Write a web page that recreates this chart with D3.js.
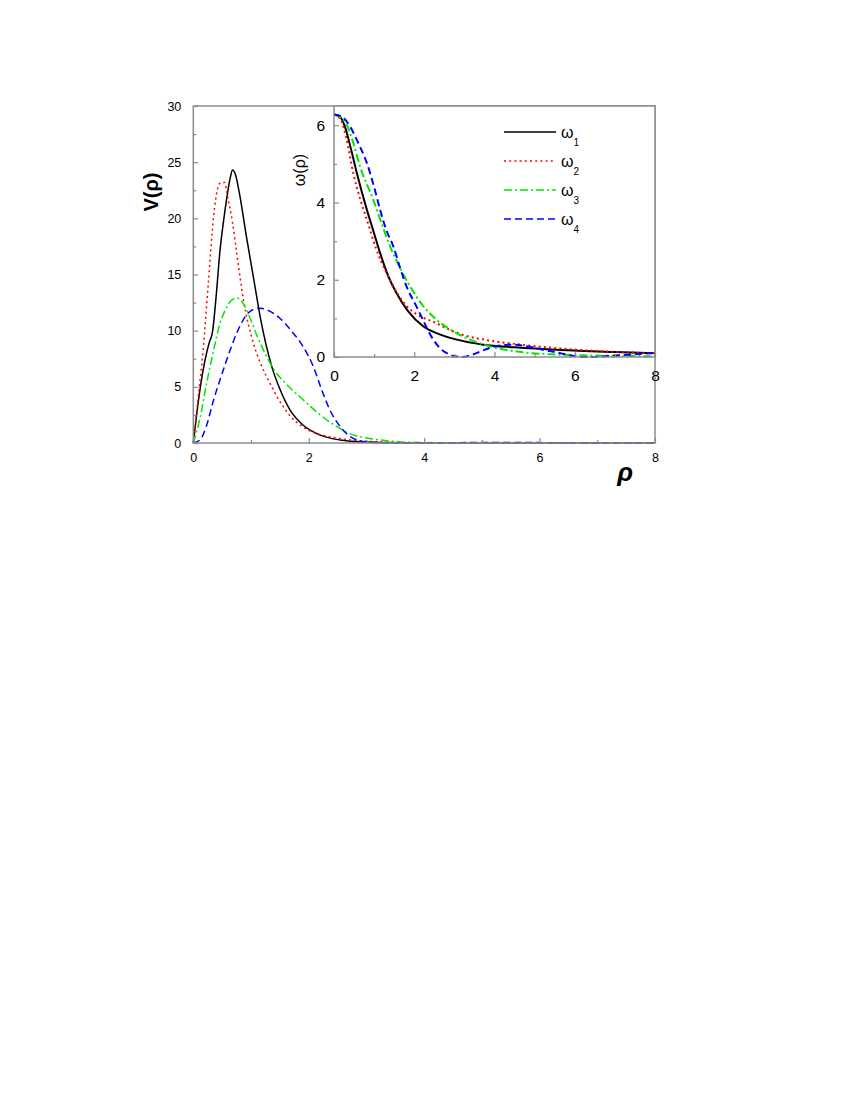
<!DOCTYPE html>
<html>
<head>
<meta charset="utf-8">
<script src="https://cdn.jsdelivr.net/npm/d3@7/dist/d3.min.js"></script>
<style>
  body { margin: 0; background: #fff; }
  text { font-family: "Liberation Sans", Arial, sans-serif; fill: #000; }
</style>
</head>
<body>
<div id="chart"></div>
<script>
// Our canvas
const width = 850,
  height = 1100

// V(rho) curves, main panel  [rho, V]
const v1 = [[0,0],[0.06,2.6],[0.12,4.9],[0.2,7.3],[0.28,9.0],[0.33,9.8],[0.4,13.3],[0.46,17.0],[0.52,19.6],[0.58,21.8],[0.64,23.6],[0.68,24.3],[0.73,23.9],[0.8,22.2],[0.92,18.4],[1.05,14.5],[1.16,11.2],[1.36,6.8],[1.5,4.8],[1.68,2.9],[1.9,1.6],[2.2,0.7],[2.54,0.27],[3,0.08],[3.5,0.02],[4,0.01],[8,0]]
const v2 = [[0,0],[0.06,2.9],[0.17,8.3],[0.26,14.2],[0.35,20.1],[0.42,22.6],[0.48,23.2],[0.54,23.2],[0.6,21.8],[0.68,19.6],[0.75,17.0],[0.87,12.7],[1.04,8.9],[1.18,6.9],[1.33,5.3],[1.5,3.7],[1.68,2.4],[1.88,1.5],[2.08,0.95],[2.48,0.45],[3,0.16],[3.5,0.05],[4,0.01],[8,0]]
const v3 = [[0,0],[0.12,2.3],[0.23,5.3],[0.35,8.2],[0.46,10.6],[0.56,11.9],[0.66,12.7],[0.76,12.9],[0.88,12.3],[1.0,10.9],[1.1,9.6],[1.25,7.9],[1.39,6.6],[1.6,5.3],[1.85,4.1],[2.2,2.5],[2.49,1.45],[2.7,0.85],[3.0,0.45],[3.24,0.27],[3.6,0.1],[4,0.04],[5,0.01],[8,0]]
const v4 = [[0,0],[0.12,0.3],[0.22,1.4],[0.35,3.8],[0.5,6.2],[0.64,8.3],[0.78,10.1],[0.92,11.4],[1.05,11.9],[1.16,12.0],[1.3,11.8],[1.5,11.1],[1.68,10.1],[1.9,8.6],[2.08,6.8],[2.22,4.8],[2.37,2.9],[2.54,1.5],[2.72,0.56],[2.9,0.18],[3.1,0.05],[3.6,0.02],[4.5,0.03],[5.5,0.05],[6.5,0.01],[8,0]]

// omega(rho) curves, inset  [rho, omega]
const w1 = [[0,6.28],[0.15,6.22],[0.27,5.97],[0.42,5.4],[0.57,4.76],[0.82,3.81],[1.0,3.2],[1.15,2.69],[1.35,2.1],[1.56,1.65],[1.85,1.18],[2.23,0.79],[2.6,0.6],[3.06,0.45],[3.72,0.32],[4.5,0.25],[5.64,0.18],[7,0.13],[8,0.1]]
const w2 = [[0,6.28],[0.15,6.18],[0.3,5.7],[0.48,4.76],[0.65,4.1],[0.82,3.55],[1.05,2.8],[1.31,2.17],[1.55,1.7],[1.81,1.32],[2.1,1.08],[2.48,0.91],[2.85,0.72],[3.22,0.57],[3.8,0.44],[4.5,0.34],[5.64,0.22],[6.5,0.16],[7.3,0.12],[8,0.1]]
const w3 = [[0,6.28],[0.15,6.22],[0.3,6.05],[0.48,5.55],[0.65,4.93],[0.98,4.07],[1.2,3.42],[1.4,2.86],[1.65,2.3],[1.9,1.82],[2.2,1.35],[2.56,0.96],[2.85,0.74],[3.14,0.57],[3.39,0.45],[3.8,0.3],[4.5,0.15],[5.64,0.06],[7,0.03],[8,0.02]]
const w4 = [[0,6.28],[0.2,6.22],[0.4,5.97],[0.6,5.55],[0.82,5.02],[1.0,4.4],[1.15,3.81],[1.3,3.3],[1.48,2.86],[1.65,2.3],[1.81,1.82],[2.0,1.42],[2.14,1.13],[2.3,0.78],[2.48,0.44],[2.65,0.22],[2.81,0.1],[3.0,0.02],[3.2,0.0],[3.45,0.06],[3.64,0.14],[4.0,0.27],[4.4,0.32],[4.8,0.28],[5.2,0.19],[5.64,0.1],[5.9,0.04],[6.2,0.0],[6.6,0.01],[6.9,0.03],[7.5,0.07],[8,0.11]]

// tick values
const mainYTicks = [0, 5, 10, 15, 20, 25, 30]
const mainYMinor = [2.5, 7.5, 12.5, 17.5, 22.5, 27.5]
const xTicks = [0, 2, 4, 6, 8]
const xMinor = [1, 3, 5, 7]
const insetYTicks = [0, 2, 4, 6]
const insetYMinor = [1, 3, 5]

// legend entries
const legendNames = ['1', '2', '3', '4']

const styles = [
  { color: '#000000', dash: null },
  { color: '#ff0000', dash: '2,3.2' },
  { color: '#00e600', dash: '8,3,2,3' },
  { color: '#0000ff', dash: '7,4' }
]

let svg = d3.select('#chart')
  .append('svg')
  .attr('width', width)
  .attr('height', height)

svg.append('rect').attr('width', width).attr('height', height).attr('fill', '#fff')

const frameColor = '#8c8c8c'

// main panel
const x = d3.scaleLinear().domain([0, 8]).range([193.3, 655])
const y = d3.scaleLinear().domain([0, 30]).range([443, 106])

// inset panel
const xi = d3.scaleLinear().domain([0, 8]).range([334, 655])
const yi = d3.scaleLinear().domain([0, 6.5]).range([357, 106])

let drawAxes = (xs, ys, yTicks, yMinor, fontSize, xPad, yPad, majorLen, minorLen) => {
  let [x0, x1] = xs.range()
  let [y0, y1] = ys.range()

  let gx = svg.append('g').attr('transform', `translate(0,${y0})`)
    .call(d3.axisBottom(xs).tickValues(xTicks).tickSizeInner(-majorLen).tickSizeOuter(0).tickPadding(xPad).tickFormat(d3.format('d')))
  let gxm = svg.append('g').attr('transform', `translate(0,${y0})`)
    .call(d3.axisBottom(xs).tickValues(xMinor).tickSizeInner(-minorLen).tickSizeOuter(0).tickFormat(''))
  let gy = svg.append('g').attr('transform', `translate(${x0},0)`)
    .call(d3.axisLeft(ys).tickValues(yTicks).tickSizeInner(-majorLen).tickSizeOuter(0).tickPadding(yPad).tickFormat(d3.format('d')))
  let gym = svg.append('g').attr('transform', `translate(${x0},0)`)
    .call(d3.axisLeft(ys).tickValues(yMinor).tickSizeInner(-minorLen).tickSizeOuter(0).tickFormat(''))

  ;[gx, gxm, gy, gym].forEach(g => {
    g.select('.domain').remove()
    g.selectAll('line').attr('stroke', frameColor).attr('stroke-width', 1.2)
    g.selectAll('text').attr('font-size', fontSize).attr('fill', '#000')
      .style('font-family', '"Liberation Sans", Arial, sans-serif')
  })

  svg.append('rect')
    .attr('x', x0).attr('y', y1)
    .attr('width', x1 - x0).attr('height', y0 - y1)
    .attr('fill', 'none')
    .attr('stroke', frameColor)
    .attr('stroke-width', 1.5)
}

let drawLines = (series, xs, ys, lw) => {
  const line = d3.line()
    .x(d => xs(d[0]))
    .y(d => ys(d[1]))
    .curve(d3.curveMonotoneX)
  series.forEach((s, i) => {
    svg.append('path')
      .datum(s)
      .attr('d', line)
      .attr('fill', 'none')
      .attr('stroke', styles[i].color)
      .attr('stroke-width', lw)
      .attr('stroke-dasharray', styles[i].dash)
  })
}

// main
drawLines([v1, v2, v3, v4], x, y, 1.5)
drawAxes(x, y, mainYTicks, mainYMinor, 12.5, 10, 12, 5, 3)

// inset on top, white background
svg.append('rect')
  .attr('x', xi.range()[0]).attr('y', yi.range()[1])
  .attr('width', xi.range()[1] - xi.range()[0])
  .attr('height', yi.range()[0] - yi.range()[1])
  .attr('fill', '#fff')
drawLines([w1, w2, w3, w4], xi, yi, 2)
drawAxes(xi, yi, insetYTicks, insetYMinor, 15.5, 13, 9, 5, 3)

// axis titles
svg.append('text')
  .attr('transform', 'translate(158,192) rotate(-90)')
  .attr('text-anchor', 'middle')
  .attr('font-size', 20)
  .attr('font-weight', 'bold')
  .text('V(ρ)')

svg.append('text')
  .attr('transform', 'translate(305,170) rotate(-90)')
  .attr('text-anchor', 'middle')
  .attr('font-size', 16)
  .text('ω(ρ)')

svg.append('text')
  .attr('x', 625).attr('y', 481)
  .attr('text-anchor', 'middle')
  .attr('font-size', 26)
  .attr('font-weight', 'bold')
  .attr('font-style', 'italic')
  .text('ρ')

// legend
const legendY = [132, 161, 190, 219]
legendNames.forEach((n, i) => {
  svg.append('line')
    .attr('x1', 504).attr('x2', 556)
    .attr('y1', legendY[i]).attr('y2', legendY[i])
    .attr('stroke', styles[i].color)
    .attr('stroke-width', 1.5)
    .attr('stroke-dasharray', styles[i].dash)
  let t = svg.append('text')
    .attr('x', 561).attr('y', legendY[i] + 6)
    .attr('font-size', 16)
  t.append('tspan').text('ω')
  t.append('tspan').attr('dy', 8).attr('font-size', 10).text(n)
})
</script>
</body>
</html>
